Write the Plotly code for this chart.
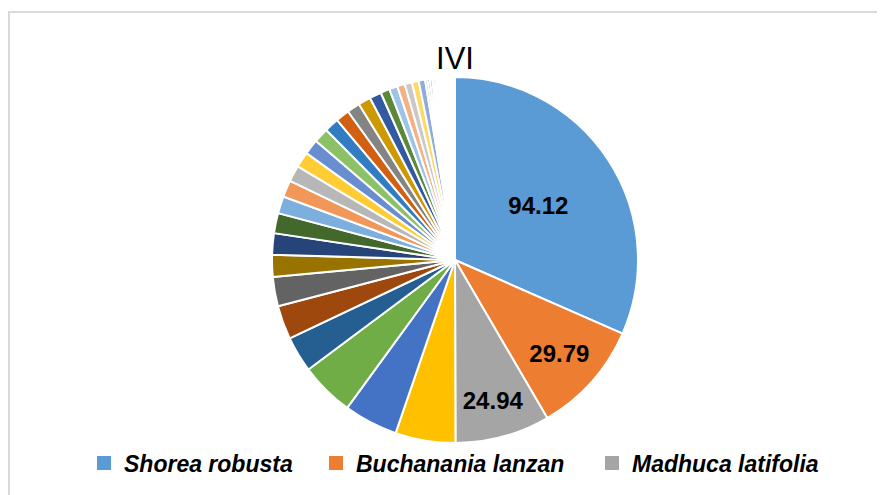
import plotly.graph_objects as go

# IVI per species, in the order the slices run clockwise from 12 o'clock
species = ['Shorea robusta', 'Buchanania lanzan', 'Madhuca latifolia'] + \
    ['Species %d' % i for i in range(4, 46)]
ivi = [94.12, 29.79, 24.94, 15.8, 14.2, 14.2,
       9.4, 8.9, 7.7, 5.8, 5.6, 5.3,
       4.5, 4.4, 4.3, 4.1, 4.0, 3.9,
       3.8, 3.6, 3.4, 3.3, 3.1, 2.4,
       2.2, 2.0, 1.9, 1.8, 1.7,
       0.65, 0.6, 0.6, 0.55, 0.55, 0.5, 0.5, 0.5, 0.5, 0.45, 0.45, 0.45, 0.4, 0.4, 0.35, 0.35]
shown_labels = ['94.12', '29.79', '24.94']

office = ['#5B9BD5', '#ED7D31', '#A5A5A5', '#FFC000', '#4472C4', '#70AD47',
          '#255E91', '#9E480E', '#636363', '#997300', '#264478', '#43682B',
          '#7CAFDD', '#F1975A', '#B7B7B7', '#FFCD33', '#698ED0', '#8CC168',
          '#327DC2', '#D26012', '#848484', '#CC9A00', '#335AA1', '#5A8A39',
          '#9DC3E6', '#F4B183', '#C9C9C9', '#FFD966', '#8FAADC', '#A9D18E',
          '#1F4E79', '#843C0C', '#525252', '#7F6000', '#203864', '#385723']
colors = [office[i % len(office)] for i in range(len(ivi))]
text = shown_labels + [''] * (len(ivi) - len(shown_labels))

W, H = 885, 495
OX, OY = 8, 8  # page body margin


def px(x):
    return (x - OX) / W


def py(y):
    return 1 - (y - OY) / H


fig = go.Figure()
fig.add_trace(go.Pie(
    labels=species, values=ivi, text=text, textinfo='text',
    textposition='inside', insidetextorientation='horizontal',
    textfont=dict(family='Liberation Sans', size=24, color='black', weight='bold'),
    sort=False, direction='clockwise', rotation=0,
    marker=dict(colors=colors, line=dict(color='white', width=2)),
    showlegend=False, hoverinfo='label+value',
    domain=dict(x=[px(272), px(638)], y=[py(443), py(77)]),
))

# legend shows only the three leading species, one legend box each
legend_font = dict(family='Liberation Sans', size=23, color='black', style='italic', weight='bold')
legend_left = [84, 316, 592]
legends = {}
for i, (name, c) in enumerate(zip(species[:3], colors[:3])):
    key = 'legend' if i == 0 else 'legend%d' % (i + 1)
    fig.add_trace(go.Scatter(x=[None], y=[None], mode='markers', name=name, legend=key,
                             marker=dict(symbol='square', size=14, color=c)))
    legends[key] = dict(orientation='h', x=px(legend_left[i]), xanchor='left',
                        y=py(463), yanchor='middle', font=legend_font,
                        itemsizing='trace', bgcolor='rgba(0,0,0,0)')

fig.update_layout(
    width=W, height=H,
    margin=dict(l=0, r=0, t=0, b=0),
    paper_bgcolor='white', plot_bgcolor='white',
    xaxis=dict(visible=False), yaxis=dict(visible=False),
    title=dict(text='IVI', x=px(455), xanchor='center', y=py(58), yanchor='middle',
               font=dict(family='Liberation Sans Narrow, Liberation Sans', size=31, color='black')),
    shapes=[dict(type='rect', xref='paper', yref='paper', x0=1 / W, x1=1.1, y0=-0.1, y1=py(12),
                 line=dict(color='#D9D9D9', width=2), fillcolor='rgba(0,0,0,0)', layer='below')],
    **legends,
)

fig.write_html("out.html")
